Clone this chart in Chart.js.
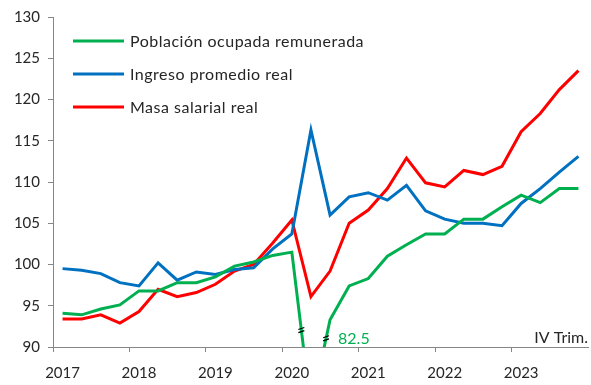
<!DOCTYPE html>
<html>
<head>
<meta charset="utf-8">
<script src="https://cdn.jsdelivr.net/npm/chart.js@4.4.1/dist/chart.umd.min.js"></script>
<style>
  html, body { margin: 0; padding: 0; background: #ffffff; }
  canvas { display: block; }
</style>
</head>
<body>
<canvas id="chart" width="591" height="385"></canvas>
<script>
// Quarterly indices, 2017 I – 2023 IV
const years = ['2017', '2018', '2019', '2020', '2021', '2022', '2023'];
const quarters = ['I', 'II', 'III', 'IV'];
const categories = years.flatMap(y => quarters.map(q => y + ' ' + q));

const poblacionOcupada = [94.1, 93.9, 94.6, 95.1, 96.8, 96.8, 97.8, 97.8, 98.5, 99.8, 100.3, 101.1, 101.5, 82.5,
                          93.3, 97.4, 98.3, 101.0, 102.4, 103.7, 103.7, 105.5, 105.5, 107.0, 108.4, 107.5, 109.2, 109.2];
const ingresoPromedio  = [99.5, 99.3, 98.9, 97.8, 97.4, 100.2, 98.1, 99.1, 98.8, 99.4, 99.6, 101.9, 103.7, 116.3,
                          106.0, 108.2, 108.7, 107.8, 109.6, 106.5, 105.5, 105.0, 105.0, 104.7, 107.4, 109.2, 111.2, 113.1];
const masaSalarial     = [93.4, 93.4, 93.9, 92.9, 94.3, 97.0, 96.1, 96.6, 97.6, 99.2, 100.0, 102.6, 105.4, 96.1,
                          99.2, 105.0, 106.6, 109.2, 112.9, 109.9, 109.4, 111.4, 110.9, 111.9, 116.1, 118.3, 121.2, 123.5];

const seriesNames = ['Población ocupada remunerada', 'Ingreso promedio real', 'Masa salarial real'];
const seriesColors = ['#00B050', '#0070C0', '#FF0000'];

const yMin = 90, yMax = 130, yStep = 5;
const periodNote = 'IV Trim.';

const FONT = 'Lato, "Liberation Sans", Arial, sans-serif';
const TEXT = '#262626';
const AXIS = '#868686';

// Legend drawn inside the plot, top-left
const insideLegend = {
  id: 'insideLegend',
  afterDatasetsDraw(chart) {
    const ctx = chart.ctx;
    const x0 = 73, x1 = 124, y0 = 41, gap = 33;
    ctx.save();
    ctx.font = '16px ' + FONT;
    ctx.letterSpacing = '0.5px';
    ctx.textBaseline = 'middle';
    ctx.textAlign = 'left';
    chart.data.datasets.forEach((ds, i) => {
      const y = y0 + i * gap;
      ctx.strokeStyle = ds.borderColor;
      ctx.lineWidth = 3;
      ctx.beginPath();
      ctx.moveTo(x0, y);
      ctx.lineTo(x1, y);
      ctx.stroke();
      ctx.fillStyle = TEXT;
      ctx.fillText(ds.label, 130, y + 1);
    });
    ctx.restore();
  }
};

// Axis-break marks on the off-scale quarter, its value label, and the period note
const breakNotes = {
  id: 'breakNotes',
  afterDatasetsDraw(chart) {
    const ctx = chart.ctx;
    const xs = chart.scales.x, ys = chart.scales.y;
    const data = chart.data.datasets[0].data;
    const k = data.findIndex(v => v < yMin);
    if (k < 1) return;
    // point on a segment where it reaches a given value
    const along = (i, j, v) => {
      const t = (data[i] - v) / (data[i] - data[j]);
      const xa = xs.getPixelForValue(i), xb = xs.getPixelForValue(j);
      return { x: xa + (xb - xa) * t, y: ys.getPixelForValue(v) };
    };
    const marks = [along(k - 1, k, 92.05), along(k, k + 1, 91.05)];
    ctx.save();
    ctx.strokeStyle = '#000000';
    ctx.lineWidth = 1.2;
    marks.forEach(p => {
      [-1.6, 1.6].forEach(d => {
        ctx.beginPath();
        ctx.moveTo(p.x - 3, p.y + d + 1);
        ctx.lineTo(p.x + 3, p.y + d - 1);
        ctx.stroke();
      });
    });
    const base = ys.getPixelForValue(yMin) - 3;
    ctx.font = '16px ' + FONT;
    ctx.textBaseline = 'alphabetic';
    ctx.textAlign = 'left';
    ctx.fillStyle = chart.data.datasets[0].borderColor;
    ctx.fillText(data[k].toFixed(1), xs.getPixelForValue(k + 1) + 8, base);
    ctx.fillStyle = TEXT;
    ctx.textAlign = 'right';
    ctx.fillText(periodNote, chart.chartArea.right, base - 1);
    ctx.restore();
  }
};

const series = [poblacionOcupada, ingresoPromedio, masaSalarial];

new Chart(document.getElementById('chart'), {
  type: 'line',
  data: {
    labels: categories,
    datasets: series.map((vals, i) => ({
      label: seriesNames[i],
      data: vals,
      borderColor: seriesColors[i],
      backgroundColor: seriesColors[i],
      borderWidth: 3,
      pointRadius: 0,
      tension: 0,
      fill: false
    }))
  },
  options: {
    responsive: false,
    animation: false,
    devicePixelRatio: 1,
    layout: { padding: { top: 16, right: 3, left: 0, bottom: 0 } },
    plugins: {
      legend: { display: false },
      tooltip: { enabled: false }
    },
    scales: {
      x: {
        type: 'category',
        offset: true,
        afterFit: s => { s.height = 38; },
        border: { display: true, color: AXIS, width: 1 },
        grid: {
          offset: true,
          drawOnChartArea: false,
          drawTicks: true,
          tickLength: 5,
          color: c => (c.index % 4 === 0 ? AXIS : 'rgba(0,0,0,0)')
        },
        ticks: {
          autoSkip: false,
          maxRotation: 0,
          minRotation: 0,
          padding: 12,
          color: TEXT,
          font: { family: FONT, size: 15 },
          callback: (v, i) => (i % 4 === 0 ? years[i / 4] : '')
        }
      },
      y: {
        min: yMin,
        max: yMax,
        afterFit: s => { s.width = 53; },
        border: { display: true, color: AXIS, width: 1 },
        grid: {
          drawOnChartArea: false,
          drawTicks: true,
          tickLength: 5,
          color: AXIS
        },
        ticks: {
          stepSize: yStep,
          padding: 8,
          color: TEXT,
          font: { family: FONT, size: 15 }
        }
      }
    }
  },
  plugins: [insideLegend, breakNotes]
});
</script>
</body>
</html>
